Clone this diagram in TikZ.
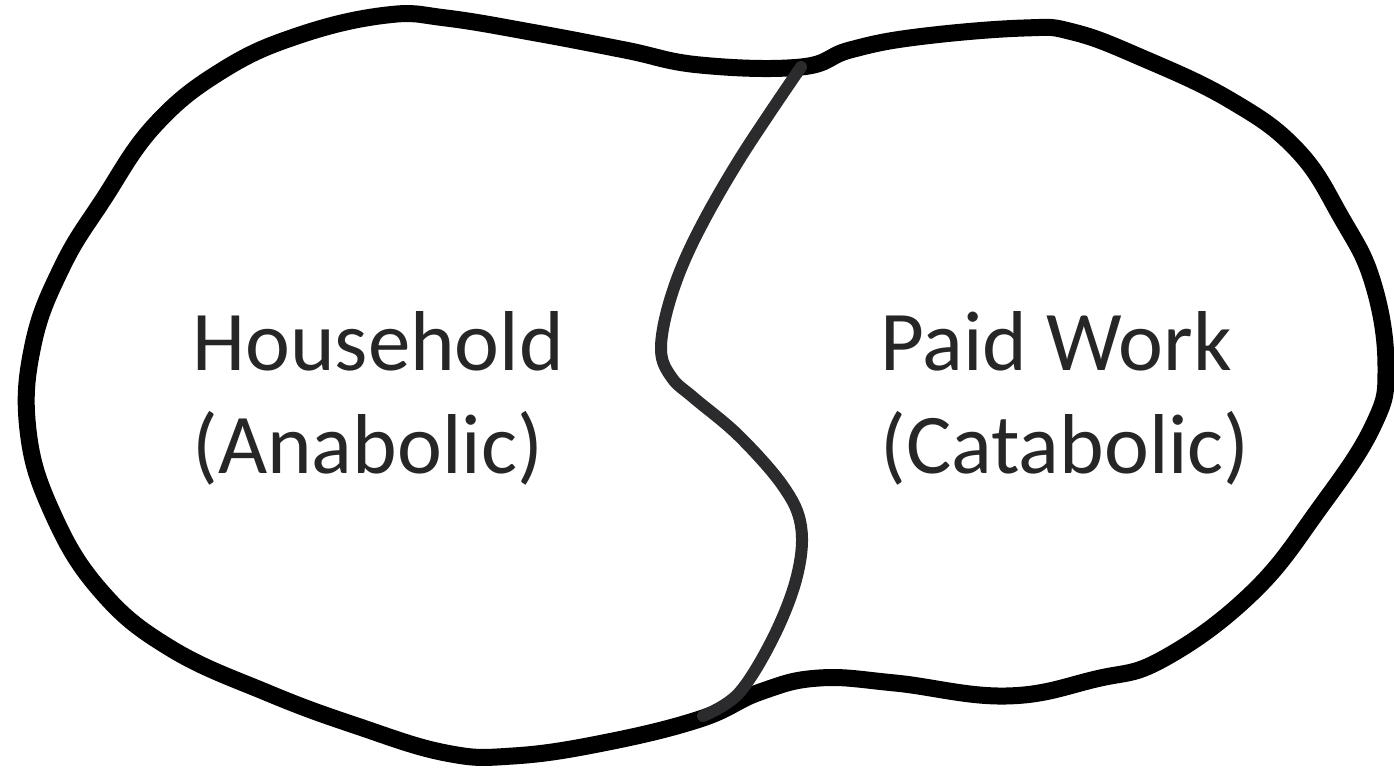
\documentclass[tikz,border=0pt]{standalone}
\usepackage{fontspec}
\setmainfont{Carlito}
\definecolor{divgray}{HTML}{2B2B2D}
\definecolor{txtgray}{HTML}{262626}
\begin{document}
\begin{tikzpicture}[x=0.5pt, y=-0.5pt]

\tikzstyle{blob}=[line width=8.5pt, black, line join=round]
\tikzstyle{divide}=[line width=6pt, color=divgray, line cap=round]
\tikzstyle{region}=[align=left, anchor=west, inner sep=0pt, text=txtgray, font=\fontsize{42.5}{51.5}\selectfont]

\useasboundingbox (0,0) rectangle (1394,776);

\draw [blob] plot [smooth cycle, tension=0.7] coordinates {
  (801,67) (850,50) (917,37) (1024,28) (1073,32) (1140,57) (1230,100)
  (1297,150) (1341,217) (1373,283) (1386,367) (1373,426) (1319,509)
  (1252,593) (1163,659) (1096,679) (1006,696) (895,683) (819,678)
  (760,692) (700,719) (603,743) (513,756) (446,753) (357,726) (268,693)
  (170,648) (100,590) (52,512) (28,430) (33,345) (62,267)
  (103,200) (155,125) (223,70) (300,35) (387,15) (446,18) (536,33)
  (625,50) (700,65)};

\draw [divide] plot [smooth, tension=0.6] coordinates {
  (801,67) (739,160) (694,240) (670,300) (661,350) (672,378) (694,398)
  (739,436) (783,486) (801,526) (797,576) (774,636) (739,693) (703,716)};

\node (house) [region] at (192,398) {Household\\(Anabolic)};
\node (paid) [region] at (880,398) {Paid Work\\(Catabolic)};

\end{tikzpicture}
\end{document}
